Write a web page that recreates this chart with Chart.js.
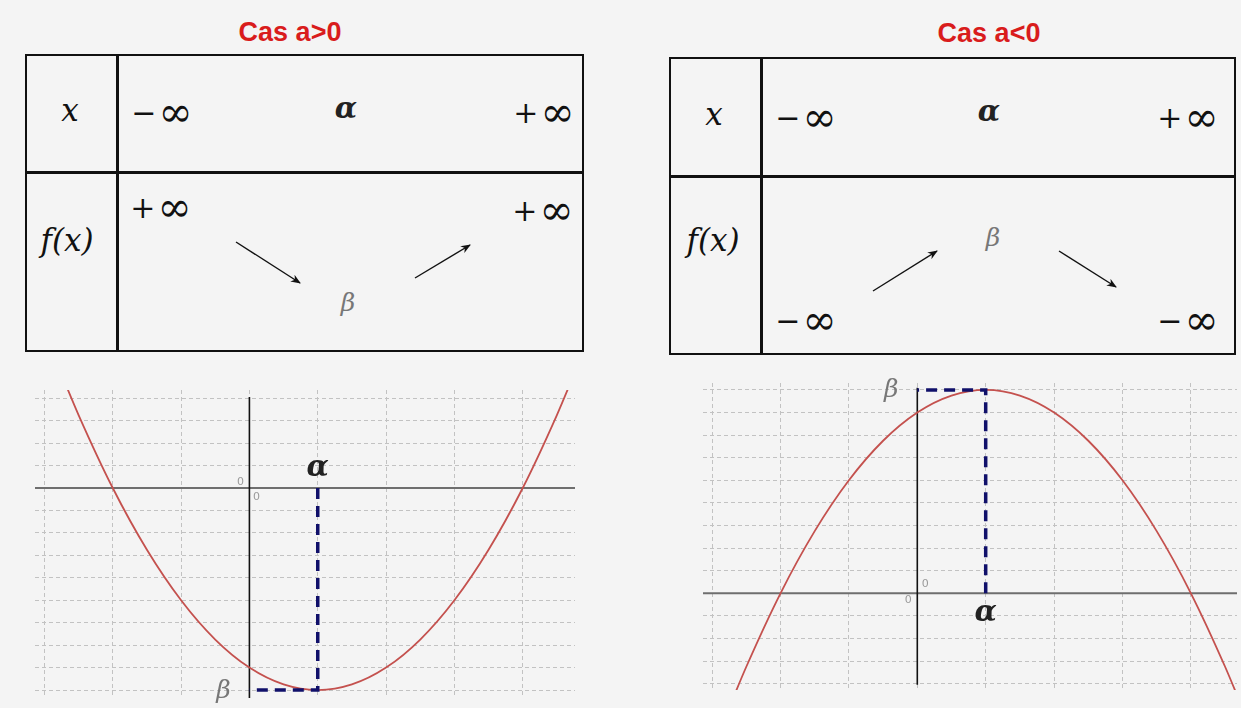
<!DOCTYPE html>
<html lang="fr">
<head>
<meta charset="UTF-8">
<title>Variations d'une fonction du second degré</title>
<script src="https://cdn.jsdelivr.net/npm/chart.js"></script>
<style>
  body { margin: 0; background: #f4f4f4; }
  #page { position: relative; width: 1241px; height: 708px; background: #f4f4f4; overflow: hidden; }
  .title { position: absolute; font: bold 27px "Liberation Sans", Arial, sans-serif; color: #d91c1c; transform: translate(-50%, -50%); white-space: nowrap; }
  .tab { position: absolute; border: 2.5px solid #111; box-sizing: border-box; }
  .vl { position: absolute; width: 2.5px; background: #111; }
  .hl { position: absolute; height: 2.5px; background: #111; }
  .t { position: absolute; transform: translate(-50%, -50%); white-space: nowrap; color: #111; line-height: 1; }
  .m { font: italic 31px "DejaVu Serif", serif; }
  .inf { display: flex; align-items: center; font-family: "DejaVu Serif", serif; font-weight: 300; }
  .inf .s { font-size: 30px; margin-right: 2px; }
  .inf .o { font-size: 41px; }
  .al { font: italic bold 29px "DejaVu Serif", serif; color: #222; }
  .be { font: italic 25px "DejaVu Serif", serif; color: #777; }
  svg { position: absolute; left: 0; top: 0; }
  canvas { position: absolute; }
</style>
</head>
<body>
<div id="page">
  <div class="title" style="left:290px;top:32px">Cas a&gt;0</div>
  <div class="title" style="left:989px;top:33px">Cas a&lt;0</div>

  <!-- tableau a>0 -->
  <div class="tab" style="left:25px;top:54px;width:559px;height:298px"></div>
  <div class="vl" style="left:116px;top:54px;height:298px"></div>
  <div class="hl" style="left:25px;top:171px;width:559px"></div>
  <div class="t m" style="left:70px;top:110px">x</div>
  <div class="t inf" style="left:162px;top:112px"><span class="s">−</span><span class="o">∞</span></div>
  <div class="t al" style="left:346px;top:108px">α</div>
  <div class="t inf" style="left:544px;top:112px"><span class="s">+</span><span class="o">∞</span></div>
  <div class="t m" style="left:67px;top:240px">f(x)</div>
  <div class="t inf" style="left:161px;top:207px"><span class="s">+</span><span class="o">∞</span></div>
  <div class="t inf" style="left:543px;top:210px"><span class="s">+</span><span class="o">∞</span></div>
  <div class="t be" style="left:348px;top:302px">β</div>

  <!-- tableau a<0 -->
  <div class="tab" style="left:669px;top:57px;width:567px;height:298px"></div>
  <div class="vl" style="left:760px;top:57px;height:298px"></div>
  <div class="hl" style="left:669px;top:175px;width:567px"></div>
  <div class="t m" style="left:714px;top:114px">x</div>
  <div class="t inf" style="left:806px;top:117px"><span class="s">−</span><span class="o">∞</span></div>
  <div class="t al" style="left:989px;top:111px">α</div>
  <div class="t inf" style="left:1188px;top:117px"><span class="s">+</span><span class="o">∞</span></div>
  <div class="t m" style="left:713px;top:240px">f(x)</div>
  <div class="t be" style="left:993px;top:237px">β</div>
  <div class="t inf" style="left:806px;top:320px"><span class="s">−</span><span class="o">∞</span></div>
  <div class="t inf" style="left:1188px;top:320px"><span class="s">−</span><span class="o">∞</span></div>

  <svg width="1241" height="708">
    <defs>
      <marker id="ah" markerWidth="10" markerHeight="8" refX="9" refY="4" orient="auto" markerUnits="userSpaceOnUse">
        <path d="M0,0 L10,4 L0,8 L3,4 Z" fill="#111"/>
      </marker>
    </defs>
    <g stroke="#111" stroke-width="1.4" marker-end="url(#ah)">
      <line x1="236" y1="242" x2="300" y2="283"/>
      <line x1="415" y1="278" x2="470" y2="245"/>
      <line x1="873" y1="291" x2="937" y2="251"/>
      <line x1="1059" y1="251" x2="1116" y2="287"/>
    </g>
  </svg>

  <canvas id="gUp" width="540" height="344" style="left:35px;top:370px"></canvas>
  <canvas id="gDown" width="534" height="343" style="left:703px;top:363px"></canvas>
</div>

<script>
// valeurs (une case = une unité)
const xs = [-2.75, -2.5, -2, -1.5, -1, -0.5, 0, 0.5, 1, 1.5, 2, 2.5, 3, 3.5, 4, 4.5, 4.75];
const yUp = [5.06, 3.25, 0, -2.75, -5, -6.75, -8, -8.75, -9, -8.75, -8, -6.75, -5, -2.75, 0, 3.25, 5.06];
const yDown = [-5.06, -3.25, 0, 2.75, 5, 6.75, 8, 8.75, 9, 8.75, 8, 6.75, 5, 2.75, 0, -3.25, -5.06];

const alpha = 1;
const betaUp = -9;
const betaDown = 9;

const gridX = [-3, -2, -1, 0, 1, 2, 3, 4];
const gridYUp = [-9, -8, -7, -6, -5, -4, -3, -2, -1, 0, 1, 2, 3, 4];
const gridYDown = [-4, -3, -2, -1, 0, 1, 2, 3, 4, 5, 6, 7, 8, 9];

function pts(xv, yv) {
  return xv.map((x, i) => ({ x: x, y: yv[i] }));
}

function makeGraph(id, curve, beta, box, yAxisEnds, gridY, labelDir) {
  const ctx = document.getElementById(id).getContext('2d');

  const labels = {
    id: 'labels',
    afterDatasetsDraw(chart) {
      const c = chart.ctx;
      const sx = chart.scales.x, sy = chart.scales.y;
      const ax = sx.getPixelForValue(alpha), ay = sy.getPixelForValue(0);
      const ox = sx.getPixelForValue(0), by = sy.getPixelForValue(beta);
      c.save();
      c.textAlign = 'center';
      c.textBaseline = 'middle';
      c.fillStyle = '#222';
      c.font = 'italic bold 29px "DejaVu Serif"';
      c.fillText('α', ax, ay + labelDir * 20);
      c.fillStyle = '#777';
      c.font = 'italic 25px "DejaVu Serif"';
      c.fillText('β', ox - 26, by + 1);
      c.fillStyle = '#9a9a9a';
      c.font = '11px "DejaVu Sans"';
      if (labelDir < 0) {
        c.fillText('0', ox - 9, ay - 6);
        c.fillText('0', ox + 7, ay + 9);
      } else {
        c.fillText('0', ox + 8, ay - 9);
        c.fillText('0', ox - 9, ay + 7);
      }
      c.restore();
    }
  };

  const grid = (ticks) => ({
    type: 'linear',
    afterBuildTicks: (s) => { s.ticks = ticks.map(v => ({ value: v })); },
    ticks: { display: false },
    grid: { color: '#c2c2c2', lineWidth: 1, drawTicks: false },
    border: { display: false, dash: [4, 3] }
  });

  const xScale = Object.assign(grid(gridX), { min: box[0], max: box[1] });
  const yScale = Object.assign(grid(gridY), { min: box[2], max: box[3] });

  return new Chart(ctx, {
    type: 'scatter',
    data: {
      datasets: [
        {
          label: 'alpha-beta',
          data: [{ x: alpha, y: 0 }, { x: alpha, y: beta }, { x: 0, y: beta }],
          showLine: true,
          borderColor: '#10106a',
          borderWidth: 3.5,
          borderDash: [11, 7],
          pointRadius: 0
        },
        {
          label: 'f',
          data: curve,
          showLine: true,
          borderColor: '#c4514e',
          borderWidth: 1.8,
          pointRadius: 0,
          cubicInterpolationMode: 'monotone'
        },
        {
          label: 'axe y',
          data: [{ x: 0, y: yAxisEnds[0] }, { x: 0, y: yAxisEnds[1] }],
          showLine: true,
          borderColor: '#111',
          borderWidth: 1.6,
          pointRadius: 0
        },
        {
          label: 'axe x',
          data: [{ x: box[0], y: 0 }, { x: box[1], y: 0 }],
          showLine: true,
          borderColor: '#6e6e6e',
          borderWidth: 2,
          pointRadius: 0
        }
      ]
    },
    options: {
      responsive: false,
      animation: false,
      devicePixelRatio: 1,
      layout: { padding: { top: 20, bottom: 16, left: 0, right: 0 } },
      plugins: { legend: { display: false }, tooltip: { enabled: false } },
      scales: { x: xScale, y: yScale }
    },
    plugins: [labels]
  });
}

makeGraph('gUp', pts(xs, yUp), betaUp, [-3.138, 4.765, -9.354, 4.365], [4.05, -9.354], gridYUp, -1);
makeGraph('gDown', pts(xs, yDown), betaDown, [-3.133, 4.674, -4.279, 9.305], [9.1, -4.05], gridYDown, 1);
</script>
</body>
</html>
